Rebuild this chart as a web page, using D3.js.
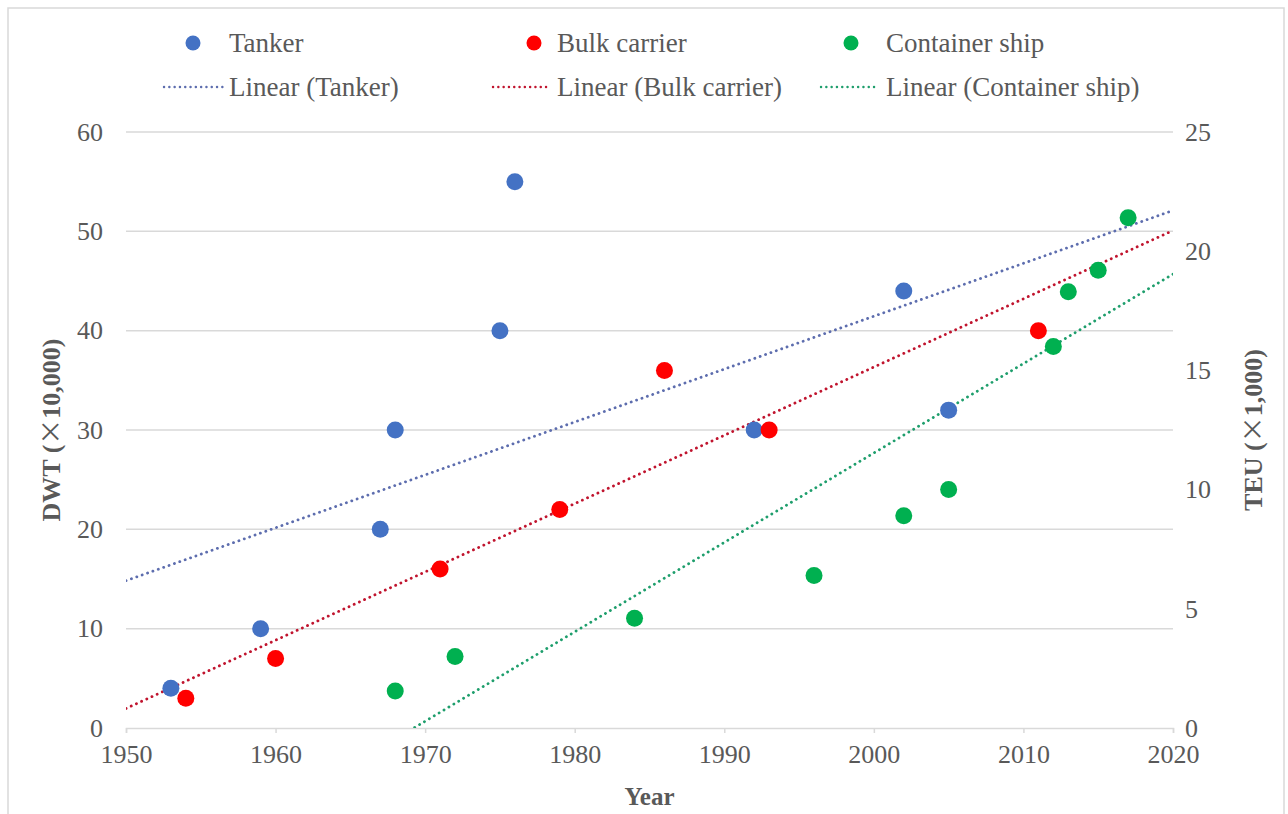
<!DOCTYPE html>
<html>
<head>
<meta charset="utf-8">
<script src="https://cdn.jsdelivr.net/npm/d3@7"></script>
<style>
  body { margin: 0; background: #fff; }
  text { font-family: "Liberation Serif", "Times New Roman", serif; fill: #595959; }
  .cjk { font-family: "Noto Sans CJK SC", sans-serif; font-weight: normal; }
</style>
</head>
<body>
<div id="chart"></div>
<script>
// Data
const tankerYears = [1953, 1959, 1967, 1968, 1975, 1976, 1992, 2002, 2005];
const tankerDwt   = [4, 10, 20, 30, 40, 55, 30, 44, 32];

const bulkYears = [1954, 1960, 1971, 1979, 1986, 1993, 2011];
const bulkDwt   = [3, 7, 16, 22, 36, 30, 40];

const containerYears = [1968, 1972, 1984, 1996, 2002, 2005, 2012, 2013, 2015, 2017];
const containerTeu   = [1.55, 3.0, 4.6, 6.4, 8.9, 10.0, 16.0, 18.3, 19.2, 21.4];

const yearTicks = [1950, 1960, 1970, 1980, 1990, 2000, 2010, 2020];
const dwtTicks  = [0, 10, 20, 30, 40, 50, 60];
const teuTicks  = [0, 5, 10, 15, 20, 25];

const W = 1288, H = 814;
const margin = { top: 132, right: 115, bottom: 86, left: 126 };
const width = W - margin.left - margin.right,
      height = H - margin.top - margin.bottom;

const svg = d3.select("#chart").append("svg")
    .attr("width", W)
    .attr("height", H);

// outer frame
svg.append("rect")
    .attr("x", 8).attr("y", 8)
    .attr("width", W - 12).attr("height", H)
    .attr("fill", "none")
    .attr("stroke", "#d9d9d9")
    .attr("stroke-width", 1.5);

const g = svg.append("g")
    .attr("transform", "translate(" + margin.left + "," + margin.top + ")");

const x = d3.scaleLinear().domain([1950, 2020]).range([0, width]);
const yL = d3.scaleLinear().domain([0, 60]).range([height, 0]);
const yR = d3.scaleLinear().domain([0, 25]).range([height, 0]);

// gridlines
g.append("g")
    .selectAll("line")
    .data(dwtTicks.slice(1))
    .join("line")
    .attr("x1", 0).attr("x2", width)
    .attr("y1", d => yL(d)).attr("y2", d => yL(d))
    .attr("stroke", "#d9d9d9")
    .attr("stroke-width", 1.5);

// x axis
const xAxis = g.append("g")
    .attr("transform", "translate(0," + height + ")")
    .call(d3.axisBottom(x).tickValues(yearTicks).tickFormat(d3.format("d")).tickSize(5).tickPadding(12));
xAxis.select(".domain").attr("stroke", "#d9d9d9").attr("stroke-width", 1.5);
xAxis.selectAll(".tick line").attr("stroke", "#d9d9d9").attr("stroke-width", 1.5);
xAxis.selectAll("text").style("font-size", "26px").attr("fill", "#595959");

// left axis
const yAxisL = g.append("g")
    .call(d3.axisLeft(yL).tickValues(dwtTicks).tickSize(0).tickPadding(23));
yAxisL.select(".domain").remove();
yAxisL.selectAll("text").style("font-size", "26px").attr("fill", "#595959");

// right axis
const yAxisR = g.append("g")
    .attr("transform", "translate(" + width + ",0)")
    .call(d3.axisRight(yR).tickValues(teuTicks).tickSize(0).tickPadding(12));
yAxisR.select(".domain").remove();
yAxisR.selectAll("text").style("font-size", "26px").attr("fill", "#595959");

// axis titles
svg.append("text")
    .attr("x", margin.left + width / 2)
    .attr("y", 805)
    .attr("text-anchor", "middle")
    .style("font-size", "25px")
    .style("font-weight", "bold")
    .text("Year");

function axisTitle(tx, label, unit) {
    const t = svg.append("text")
        .attr("transform", "translate(" + tx + "," + (margin.top + height / 2) + ") rotate(-90)")
        .attr("text-anchor", "middle")
        .attr("dy", "0.35em")
        .style("font-size", "26px")
        .style("font-weight", "bold");
    t.append("tspan").text(label + " (");
    t.append("tspan").attr("class", "cjk").text("×");
    t.append("tspan").text(unit + ")");
}
axisTitle(51, "DWT", "10,000");
axisTitle(1253, "TEU", "1,000");

// least squares fit
function linearFit(xs, ys) {
    const mx = d3.mean(xs), my = d3.mean(ys);
    let sxy = 0, sxx = 0;
    xs.forEach((v, i) => { sxy += (v - mx) * (ys[i] - my); sxx += (v - mx) * (v - mx); });
    const slope = sxy / sxx;
    return t => my + slope * (t - mx);
}

const series = [
    { name: "Tanker", xs: tankerYears, ys: tankerDwt, y: yL, color: "#4472C4", trend: "#5D6DAE" },
    { name: "Bulk carrier", xs: bulkYears, ys: bulkDwt, y: yL, color: "#FF0000", trend: "#C0142E" },
    { name: "Container ship", xs: containerYears, ys: containerTeu, y: yR, color: "#00B050", trend: "#1E9E6C" }
];

svg.append("clipPath").attr("id", "plot-clip")
  .append("rect")
    .attr("x", 0).attr("y", 0)
    .attr("width", width).attr("height", height);

// trend lines
series.forEach(s => {
    const f = linearFit(s.xs, s.ys);
    g.append("line")
        .attr("clip-path", "url(#plot-clip)")
        .attr("x1", x(1950)).attr("y1", s.y(f(1950)))
        .attr("x2", x(2020)).attr("y2", s.y(f(2020)))
        .attr("stroke", s.trend)
        .attr("stroke-width", 2.8)
        .attr("stroke-linecap", "round")
        .attr("stroke-dasharray", "0.1 5.6");
});

// points
series.forEach(s => {
    g.append("g")
        .selectAll("circle")
        .data(s.xs.map((v, i) => [v, s.ys[i]]))
        .join("circle")
        .attr("cx", d => x(d[0]))
        .attr("cy", d => s.y(d[1]))
        .attr("r", 8.5)
        .attr("fill", s.color);
});

// legend
const legendPos = [
    { dot: 193, text: 229, line: [164, 223] },
    { dot: 534, text: 557, line: [493, 550] },
    { dot: 851, text: 886, line: [821, 879] }
];
series.forEach((s, i) => {
    const p = legendPos[i];
    svg.append("circle")
        .attr("cx", p.dot).attr("cy", 43).attr("r", 7.5)
        .attr("fill", s.color);
    svg.append("text")
        .attr("x", p.text).attr("y", 43).attr("dy", "0.33em")
        .style("font-size", "27px")
        .text(s.name);
    svg.append("line")
        .attr("x1", p.line[0]).attr("x2", p.line[1])
        .attr("y1", 87).attr("y2", 87)
        .attr("stroke", s.trend)
        .attr("stroke-width", 2.4)
        .attr("stroke-linecap", "round")
        .attr("stroke-dasharray", "0.1 5.2");
    svg.append("text")
        .attr("x", p.text).attr("y", 87).attr("dy", "0.33em")
        .style("font-size", "27px")
        .text("Linear (" + s.name + ")");
});
</script>
</body>
</html>
